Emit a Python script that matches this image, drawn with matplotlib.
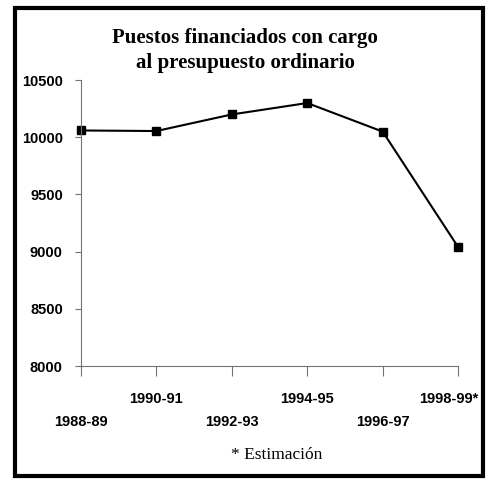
import numpy as np
import matplotlib.pyplot as plt
from matplotlib.patches import Rectangle
from matplotlib.transforms import ScaledTranslation

# data
periods = ['1988-89', '1990-91', '1992-93', '1994-95', '1996-97', '1998-99*']
posts = [10060, 10055, 10200, 10300, 10050, 9040]
y_ticks = [8000, 8500, 9000, 9500, 10000, 10500]

fig = plt.figure(figsize=(4.9, 4.8), dpi=100)
ax = fig.add_axes([0.165, 0.2375, 0.77, 0.5955])

x = np.arange(len(periods))
ax.plot(x, posts, color='k', linewidth=1.5, marker='s', markersize=5.5, clip_on=False)

tick_font = dict(family='Liberation Sans', fontweight='bold', fontsize=10.5)

ax.set_xlim(0, len(periods) - 1)
ax.set_ylim(8000, 10500)
ax.set_yticks(y_ticks)
ax.set_yticklabels([str(v) for v in y_ticks], **tick_font)

# staggered x labels: even ones lower, odd ones higher
labels = [p if i % 2 else '\n' + p for i, p in enumerate(periods)]
ax.set_xticks(x)
ax.set_xticklabels(labels, linespacing=1.8, **tick_font)

for s in ['top', 'right']:
    ax.spines[s].set_visible(False)
for s in ['left', 'bottom']:
    ax.spines[s].set_color('0.45')
    ax.spines[s].set_linewidth(0.8)
ax.tick_params(axis='y', length=4, color='0.45', width=0.8, pad=9)
ax.tick_params(axis='x', length=7, color='0.45', width=0.8, pad=12)

# last label right-aligned so it stays inside the frame
lbl = ax.get_xticklabels()[-1]
lbl.set_horizontalalignment('right')
lbl.set_transform(lbl.get_transform() + ScaledTranslation(0.2, 0, fig.dpi_scale_trans))

fig.text(0.5, 0.895, 'Puestos financiados con cargo\nal presupuesto ordinario',
         ha='center', va='center', family='Liberation Serif', fontweight='bold',
         fontsize=15, linespacing=1.3)
fig.text(0.565, 0.052, '* Estimación', ha='center', va='center',
         family='Liberation Serif', fontsize=12.5)

# frame round the whole chart
fig.patches.append(Rectangle((0.03, 0.008), 0.955, 0.975, transform=fig.transFigure,
                             fill=False, edgecolor='k', linewidth=3))

fig.savefig('out.png', dpi=100)
